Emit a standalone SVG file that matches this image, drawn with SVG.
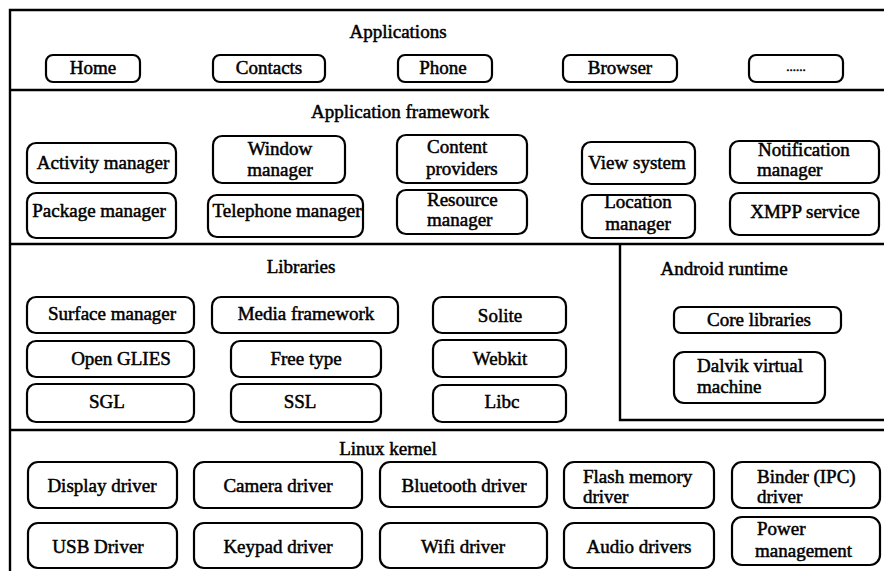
<svg xmlns="http://www.w3.org/2000/svg" width="884" height="571" viewBox="0 0 884 571">
<style>
.b{fill:#fff;stroke:#000;stroke-width:2.2}
.s{fill:none;stroke:#000;stroke-width:2.4}
text{font-family:"Liberation Serif","Times New Roman",serif;font-size:19px;fill:#000;stroke:#000;stroke-width:0.5}
.m{text-anchor:middle}
</style>
<rect width="884" height="571" fill="#fff"/>
<g id="frame">
<path class="s" d="M884 10H10V571" stroke-width="2.8"/>
<path class="s" d="M10 90H884M10 244H884M10 430H884M620 244V420H884"/>
</g>
<g id="applications">
<text class="m" x="398" y="38">Applications</text>
<g id="home"><rect class="b" x="46" y="55" width="94" height="27" rx="7"/><text class="m" x="93" y="74">Home</text></g>
<g id="contacts"><rect class="b" x="213" y="55" width="112" height="27" rx="7"/><text class="m" x="269" y="74">Contacts</text></g>
<g id="phone"><rect class="b" x="398" y="55" width="94" height="27" rx="7"/><text class="m" x="443" y="74">Phone</text></g>
<g id="browser"><rect class="b" x="563" y="55" width="114" height="27" rx="7"/><text class="m" x="620" y="74">Browser</text></g>
<g id="more"><rect class="b" x="749" y="55" width="94" height="27" rx="7"/><text class="m" x="796" y="71" style="font-size:13px">......</text></g>
</g>
<g id="framework">
<text class="m" x="400" y="118">Application framework</text>
<g id="activity"><rect class="b" x="27" y="143" width="149" height="40" rx="9"/><text class="m" x="103" y="169">Activity manager</text></g>
<g id="window"><rect class="b" x="213" y="136" width="132" height="47" rx="9"/><text class="m" x="280" y="155">Window</text><text class="m" x="280" y="176">manager</text></g>
<g id="content"><rect class="b" x="397" y="135" width="130" height="48" rx="9"/><text x="427" y="153">Content</text><text x="426" y="175">providers</text></g>
<g id="view"><rect class="b" x="582" y="142" width="113" height="42" rx="9"/><text class="m" x="637" y="169">View system</text></g>
<g id="notification"><rect class="b" x="730" y="141" width="149" height="42" rx="9"/><text x="758" y="156">Notification</text><text x="757" y="176">manager</text></g>
<g id="package"><rect class="b" x="27" y="193" width="149" height="45" rx="9"/><text class="m" x="99" y="217">Package manager</text></g>
<g id="telephone"><rect class="b" x="208" y="195" width="155" height="42" rx="9"/><text class="m" x="287" y="217">Telephone manager</text></g>
<g id="resource"><rect class="b" x="397" y="190" width="130" height="44" rx="9"/><text x="427" y="206">Resource</text><text x="427" y="226">manager</text></g>
<g id="location"><rect class="b" x="582" y="195" width="113" height="43" rx="9"/><text class="m" x="638" y="208">Location</text><text class="m" x="638" y="230">manager</text></g>
<g id="xmpp"><rect class="b" x="730" y="193" width="149" height="42" rx="9"/><text class="m" x="805" y="218">XMPP service</text></g>
</g>
<g id="libraries">
<text class="m" x="301" y="273">Libraries</text>
<g id="surface"><rect class="b" x="27" y="297" width="167" height="36" rx="9"/><text class="m" x="112" y="320">Surface manager</text></g>
<g id="media"><rect class="b" x="212" y="297" width="186" height="36" rx="9"/><text class="m" x="306" y="320">Media framework</text></g>
<g id="solite"><rect class="b" x="433" y="297" width="133" height="36" rx="9"/><text class="m" x="500" y="322">Solite</text></g>
<g id="opengl"><rect class="b" x="27" y="341" width="167" height="36" rx="9"/><text class="m" x="121" y="365">Open GLIES</text></g>
<g id="freetype"><rect class="b" x="231" y="341" width="150" height="36" rx="9"/><text class="m" x="306" y="365">Free type</text></g>
<g id="webkit"><rect class="b" x="433" y="340" width="133" height="37" rx="9"/><text class="m" x="500" y="365">Webkit</text></g>
<g id="sgl"><rect class="b" x="27" y="384" width="167" height="38" rx="9"/><text class="m" x="107" y="408">SGL</text></g>
<g id="ssl"><rect class="b" x="231" y="384" width="150" height="38" rx="9"/><text class="m" x="300" y="408">SSL</text></g>
<g id="libc"><rect class="b" x="433" y="385" width="133" height="37" rx="9"/><text class="m" x="502" y="408">Libc</text></g>
</g>
<g id="runtime">
<text class="m" x="724" y="275">Android runtime</text>
<g id="core"><rect class="b" x="674" y="307" width="167" height="26" rx="7"/><text class="m" x="759" y="326">Core libraries</text></g>
<g id="dalvik"><rect class="b" x="674" y="352" width="151" height="51" rx="10"/><text x="697" y="372">Dalvik virtual</text><text x="697" y="393">machine</text></g>
</g>
<g id="kernel">
<text class="m" x="388" y="455">Linux kernel</text>
<g id="display"><rect class="b" x="28" y="462" width="149" height="46" rx="10"/><text class="m" x="102" y="492">Display driver</text></g>
<g id="camera"><rect class="b" x="194" y="462" width="168" height="46" rx="10"/><text class="m" x="278" y="492">Camera driver</text></g>
<g id="bluetooth"><rect class="b" x="380" y="462" width="167" height="45" rx="10"/><text class="m" x="464" y="492">Bluetooth driver</text></g>
<g id="flash"><rect class="b" x="564" y="462" width="150" height="46" rx="10"/><text x="583" y="483">Flash memory</text><text x="583" y="503">driver</text></g>
<g id="binder"><rect class="b" x="732" y="462" width="148" height="46" rx="10"/><text x="757" y="483">Binder (IPC)</text><text x="757" y="503">driver</text></g>
<g id="usb"><rect class="b" x="28" y="523" width="149" height="45" rx="10"/><text class="m" x="98" y="553">USB Driver</text></g>
<g id="keypad"><rect class="b" x="194" y="523" width="168" height="45" rx="10"/><text class="m" x="278" y="553">Keypad driver</text></g>
<g id="wifi"><rect class="b" x="380" y="523" width="167" height="45" rx="10"/><text class="m" x="463" y="553">Wifi driver</text></g>
<g id="audio"><rect class="b" x="564" y="523" width="150" height="45" rx="10"/><text class="m" x="639" y="553">Audio drivers</text></g>
<g id="power"><rect class="b" x="732" y="517" width="148" height="48" rx="10"/><text x="757" y="535">Power</text><text x="755" y="557">management</text></g>
</g>
</svg>
